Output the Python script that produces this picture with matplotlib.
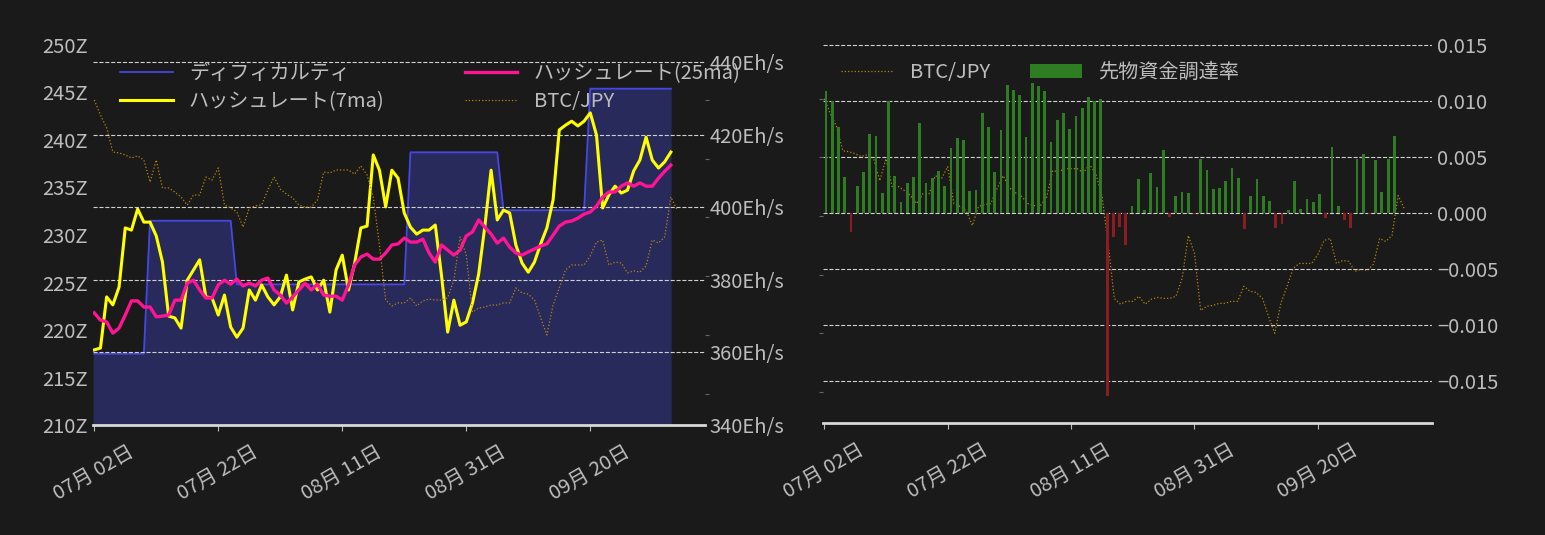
import numpy as np, pandas as pd, matplotlib
matplotlib.use('Agg')
import matplotlib.pyplot as plt
import matplotlib.dates as mdates

plt.rcParams['font.family'] = ['Noto Sans CJK JP', 'DejaVu Sans']

start = pd.Timestamp('2022-07-02')

difficulty = [217.5]*9 + [231.5]*14 + [224.8]*28 + [238.7]*15 + [232.6]*14 + [245.4]*14

hash7 = [360.7, 361.2, 375.3, 373.1, 378.0, 394.3, 393.7, 399.5, 395.9, 395.9, 392.1, 384.9, 370.0, 369.5,
         366.7, 379.9, 382.7, 385.5, 375.3, 375.0, 370.3, 375.8, 367.0, 364.2, 366.7, 377.2, 374.4, 378.6,
         375.3, 373.1, 375.3, 381.3, 371.7, 379.4, 380.2, 380.8, 377.2, 379.9, 371.1, 382.7, 386.8, 377.2,
         384.6, 394.3, 394.8, 414.4, 410.2, 400.1, 410.2, 408.0, 398.4, 394.5, 392.6, 393.7, 393.7, 395.1,
         381.3, 365.6, 374.4, 367.5, 368.4, 373.6, 381.6, 394.8, 410.2, 396.5, 399.2, 398.4, 389.6, 384.6,
         382.1, 384.9, 389.9, 394.3, 402.0, 421.3, 422.6, 423.7, 422.4, 423.7, 426.0, 419.9, 399.8, 403.4,
         405.8, 403.9, 404.7, 410.0, 413.0, 419.3, 413.0, 410.8, 412.5, 415.2]

hash25 = [370.9, 368.9, 368.4, 365.3, 366.7, 370.3, 374.2, 374.2, 372.5, 372.5, 369.8, 370.0, 370.3, 374.4,
          374.4, 379.1, 379.9, 377.2, 375.0, 375.0, 378.6, 379.9, 378.8, 380.2, 378.3, 379.1, 378.3, 379.9,
          380.5, 377.2, 375.8, 373.6, 375.3, 377.2, 379.1, 377.2, 378.8, 375.8, 375.5, 375.5, 374.4, 378.6,
          384.1, 386.3, 387.1, 385.7, 385.7, 387.4, 389.6, 389.9, 391.5, 390.4, 390.4, 391.2, 387.4, 384.9,
          389.6, 388.2, 386.8, 388.2, 392.1, 393.2, 396.5, 394.5, 392.6, 390.1, 391.5, 389.0, 387.4, 386.8,
          387.7, 388.5, 389.3, 389.9, 392.3, 394.8, 395.9, 396.2, 397.0, 398.1, 398.7, 400.3, 402.8, 404.2,
          404.2, 405.8, 406.7, 405.8, 406.7, 405.8, 405.8, 408.0, 409.9, 411.6]

btc = [459.9, 454.8, 450.4, 442.2, 441.9, 441.2, 440.2, 440.9, 439.5, 432.0, 439.5, 430.0, 430.0, 428.6,
       426.9, 424.2, 427.6, 427.6, 433.7, 432.7, 436.8, 424.2, 423.2, 421.8, 416.7, 423.2, 423.9, 424.2,
       429.3, 433.7, 429.6, 427.9, 426.6, 424.2, 423.5, 423.5, 425.9, 435.4, 435.1, 436.1, 436.1, 436.1,
       434.7, 437.5, 434.4, 426.9, 410.6, 391.9, 389.9, 390.9, 390.9, 392.6, 389.9, 391.6, 392.2, 391.9,
       391.9, 392.6, 398.7, 413.3, 407.2, 387.8, 389.2, 389.5, 390.2, 390.2, 390.9, 390.9, 396.0, 394.3,
       393.9, 391.9, 385.8, 380.0, 390.2, 396.0, 402.1, 403.8, 403.8, 403.8, 406.9, 411.6, 412.3, 403.8,
       404.8, 404.5, 401.1, 401.8, 401.4, 403.5, 412.3, 411.3, 413.3, 426.9, 422.5]

funding = [0.01092, 0.01003, 0.00765, 0.00324, -0.00173, 0.00244, 0.00369, 0.00705, 0.0069, 0.00179,
           0.00997, 0.00333, 0.00101, 0.00271, 0.00324, 0.00807, 0.00271, 0.00315, 0.00378, 0.00244,
           0.00577, 0.00673, 0.00655, 0.00199, 0.00208, 0.00893, 0.00771, 0.00369, 0.00738, 0.01146,
           0.01101, 0.01057, 0.00682, 0.01158, 0.01131, 0.01092, 0.00637, 0.00833, 0.00896, 0.00753,
           0.00869, 0.0094, 0.01039, 0.01003, 0.01021, -0.01637, -0.00217, -0.00128, -0.00286, 0.00065,
           0.00298, 0.00021, 0.0036, 0.00229, 0.00565, -0.00039, 0.00146, 0.00188, 0.00173, -0.0001,
           0.00485, 0.00387, 0.00217, 0.00226, 0.00289, 0.00405, 0.00307, -0.00149, 0.00146, 0.00298,
           0.00146, 0.0011, -0.00137, -0.00104, 0.00021, 0.00289, 0.0003, 0.00128, 0.00101, 0.00164,
           -0.00048, 0.00592, 0.00065, -0.0006, -0.00137, 0.00485, 0.0053, -0.0001, 0.00476, 0.0019,
           0.00485, 0.0069]

def days(n, offset=0.0):
    return pd.date_range(start, periods=n, freq='D') + pd.Timedelta(days=offset)

BG = '#1a1a1a'; TXT = '#bdbdbd'; GRID = '#d0d0d0'
BTC_C = '#b8860b'
fig = plt.figure(figsize=(15.45, 5.35), dpi=100)
fig.patch.set_facecolor(BG)
ax1 = fig.add_axes([0.0602, 0.2056, 0.3961, 0.7103])
ax2 = fig.add_axes([0.5327, 0.2093, 0.3942, 0.7085])
xlim = (start - pd.Timedelta(days=0.2), start + pd.Timedelta(days=98.5))

def style(ax):
    ax.set_facecolor(BG)
    for s in ax.spines.values():
        s.set_visible(False)
    ax.tick_params(colors=TXT, labelsize=14.5, length=4)

# ---- left panel
style(ax1)
ax1.spines['bottom'].set_visible(True); ax1.spines['bottom'].set_color('#d8d8d8'); ax1.spines['bottom'].set_linewidth(2)
d = days(len(difficulty))
ax1.fill_between(d, 0, difficulty, color='#282a5c', zorder=1)
ax1.plot(d, difficulty, color='#4646e0', lw=1.3, zorder=2, label='ディフィカルティ')
ax1.set_ylim(210, 250)
ax1.set_yticks(np.arange(210, 251, 5))
ax1.set_yticklabels([f'{v}Z' for v in range(210, 251, 5)])
ax1.tick_params(axis='y', length=0)
ax1.set_xlim(*xlim)

ax1r = ax1.twinx()
style(ax1r)
ax1r.plot(days(len(hash7)), hash7, color='#ffff00', lw=2.2, zorder=4, label='ハッシュレート(7ma)')
ax1r.plot(days(len(hash25)), hash25, color='#ff1493', lw=2.4, zorder=5, label='ハッシュレート(25ma)')
ax1r.set_ylim(340, 444.7)
ax1r.set_yticks(np.arange(340, 441, 20))
ax1r.set_yticklabels([f'{v}Eh/s' for v in range(340, 441, 20)])
ax1r.tick_params(axis='y', length=0)
ax1r.grid(axis='y', color=GRID, ls='--', lw=0.8)
ax1r.set_xlim(*xlim)

ax1b = ax1.twinx()
style(ax1b)
ax1b.plot(days(len(btc)), btc, color=BTC_C, lw=0.9, ls=':', label='BTC/JPY')
ax1b.set_ylim(349.4, 478.6)
ax1b.tick_params(axis='y', labelright=False, length=3, colors='#666666')
ax1b.set_xlim(*xlim)

h = [ax1.get_lines()[0], ax1r.get_lines()[0], ax1r.get_lines()[1], ax1b.get_lines()[0]]
ax1b.legend(h, [l.get_label() for l in h], ncol=2, loc='upper left', bbox_to_anchor=(0.015, 1.0),
            frameon=False, fontsize=14.5, labelcolor=TXT, handlelength=2.6, columnspacing=4.0,
            labelspacing=0.35)

# ---- right panel
style(ax2)
ax2.spines['bottom'].set_visible(True); ax2.spines['bottom'].set_color('#d8d8d8'); ax2.spines['bottom'].set_linewidth(2)
ax2.plot(days(len(btc)), btc, color=BTC_C, lw=0.9, ls=':', label='BTC/JPY')
ax2.set_ylim(349.4, 478.6)
ax2.tick_params(axis='y', labelleft=False, length=3, colors='#666666')
ax2.set_xlim(*xlim)

ax2r = ax2.twinx()
style(ax2r)
fd = days(len(funding), offset=0.3) + pd.to_timedelta(np.arange(len(funding)) * 0.012, unit='D')
fcol = ['#2e7d22' if v >= 0 else '#8b1c22' for v in funding]
bars = ax2r.bar(fd, funding, width=0.45, color=fcol, zorder=3, label='先物資金調達率')
ax2r.set_ylim(-0.0188, 0.0151)
ax2r.set_yticks(np.arange(-0.015, 0.0151, 0.005))
ax2r.set_yticklabels(['−0.015', '−0.010', '−0.005', '0.000', '0.005', '0.010', '0.015'])
ax2r.tick_params(axis='y', length=0)
ax2r.grid(axis='y', color=GRID, ls='--', lw=0.8)
ax2r.set_axisbelow(True)
ax2r.set_xlim(*xlim)
ax2r.legend([ax2.get_lines()[0], bars], ['BTC/JPY', '先物資金調達率'], ncol=2, loc='upper left',
            bbox_to_anchor=(0.0, 1.0), frameon=False, fontsize=14.5, labelcolor=TXT,
            handlelength=2.6, columnspacing=2.0)

for ax in (ax1, ax2):
    ax.set_xticks([start + pd.Timedelta(days=20*k) for k in range(5)])
    ax.xaxis.set_major_formatter(mdates.DateFormatter('%m月 %d日'))
    ax.tick_params(axis='x', colors=TXT, labelsize=14.5, length=4, pad=8)
    for t in ax.get_xticklabels():
        t.set_rotation(30); t.set_ha('center')

fig.savefig('out.png', facecolor=BG)
